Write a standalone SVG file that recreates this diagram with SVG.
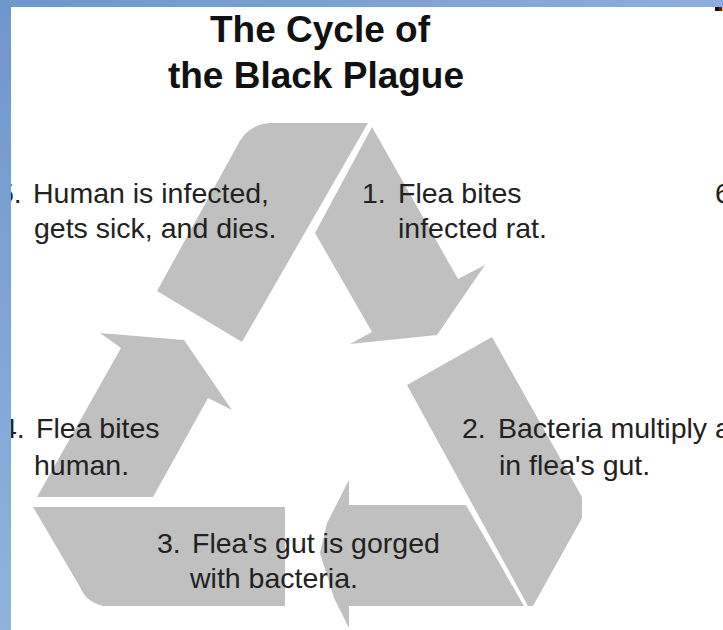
<svg xmlns="http://www.w3.org/2000/svg" width="723" height="630" viewBox="0 0 723 630">
  <defs>
    <linearGradient id="leftBar" x1="0" y1="0" x2="0" y2="1">
      <stop offset="0" stop-color="#6E97CB"/>
      <stop offset="1" stop-color="#8FB3DD"/>
    </linearGradient>
    <linearGradient id="topBar" x1="0" y1="0" x2="1" y2="0">
      <stop offset="0" stop-color="#6E97CB"/>
      <stop offset="1" stop-color="#8CAEDB"/>
    </linearGradient>
    <style>
      .band { fill: #C0C0C0; stroke: none; }
      .title { font-family: "Liberation Sans", Arial, sans-serif; font-weight: bold; font-size: 37px; fill: #111111; text-anchor: middle; }
      .label { font-family: "Liberation Sans", Arial, sans-serif; font-size: 28.5px; fill: #222222; }
    </style>
  </defs>
  <rect x="0" y="0" width="723" height="630" fill="#FFFFFF"/>

  <g id="cycle">
    <path id="band-5" class="band" d="M270,123 L368,123 L242,342 L157,291 L236,148 Q247,124 270,123 Z"/>
    <path id="arrow-1" class="band" d="M372,127 L458,279 L485,265 L437,335 L350,344 L372,332 L315,233 Z"/>
    <path id="band-2" class="band" d="M407,385 L492,337 L582,497 L582,518 L533,606 L528,606 Z"/>
    <path id="arrow-3" class="band" d="M349,480 L349,505 L466,505 L524,606 L349,606 L349,628 L334,598 L320,553 L327,523 Z"/>
    <path id="band-3" class="band" d="M33,507 L285,507 L285,606 L103,606 Q86,602 80,587 Z"/>
    <path id="arrow-4" class="band" d="M37,497 L153,497 L208,398 L232,410 L184,340 L100,333 L121,348 Z"/>
  </g>

  <g id="title">
    <text class="title" x="320" y="42">The Cycle of</text>
    <text class="title" x="316" y="88">the Black Plague</text>
  </g>

  <g id="step-1">
    <text class="label" x="362" y="203">1.</text>
    <text class="label" x="398" y="203">Flea bites</text>
    <text class="label" x="398" y="238">infected rat.</text>
  </g>
  <g id="step-2">
    <text class="label" x="462" y="438">2.</text>
    <text class="label" x="498" y="438">Bacteria multiply a</text>
    <text class="label" x="499" y="475">in flea's gut.</text>
  </g>
  <g id="step-3">
    <text class="label" x="157" y="553">3.</text>
    <text class="label" x="192" y="553">Flea's gut is gorged</text>
    <text class="label" x="190" y="588">with bacteria.</text>
  </g>
  <g id="step-4">
    <text class="label" x="1" y="438">4.</text>
    <text class="label" x="36" y="438">Flea bites</text>
    <text class="label" x="34" y="475">human.</text>
  </g>
  <g id="step-5">
    <text class="label" x="-2" y="203">5.</text>
    <text class="label" x="33" y="203">Human is infected,</text>
    <text class="label" x="34" y="238">gets sick, and dies.</text>
  </g>
  <g id="edge-fragment">
    <text class="label" x="715" y="203">6</text>
  </g>

  <g id="frame">
    <rect x="0" y="0" width="723" height="7" fill="url(#topBar)"/>
    <rect x="0" y="0" width="11" height="630" fill="url(#leftBar)"/>
    <rect x="715" y="7" width="4" height="4" fill="#111111"/>
    <rect x="719" y="7" width="3" height="4" fill="#7A1020"/>
    <rect x="722" y="7" width="1" height="4" fill="#E0C040"/>
  </g>
</svg>
